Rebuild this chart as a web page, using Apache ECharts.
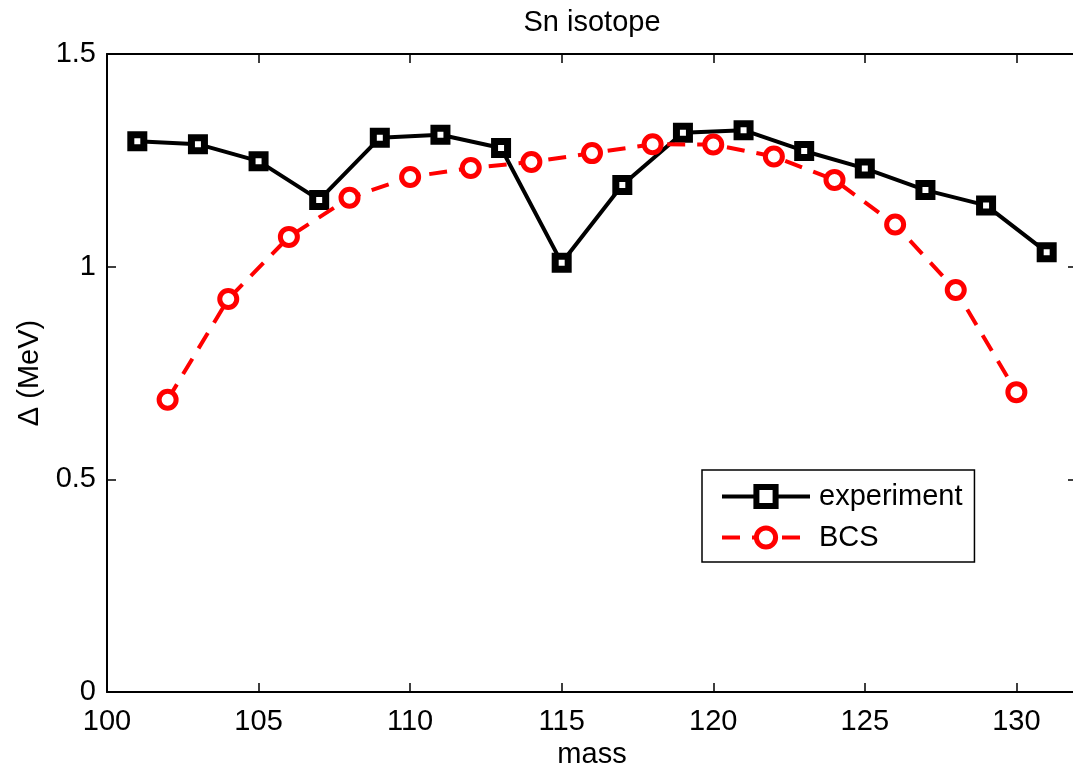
<!DOCTYPE html>
<html>
<head>
<meta charset="utf-8">
<script src="https://cdn.jsdelivr.net/npm/echarts@6/dist/echarts.min.js"></script>
<style>
  html, body { margin: 0; padding: 0; background: #fff; overflow: hidden; }
  #chart { width: 1080px; height: 772px; }
</style>
</head>
<body>
<div id="chart"></div>
<script>
// Pairing gap of Sn isotopes: measured odd-mass values vs BCS calculation
const expMass = [101, 103, 105, 107, 109, 111, 113, 115, 117, 119, 121, 123, 125, 127, 129, 131];
const expGap  = [1.295, 1.288, 1.248, 1.157, 1.303, 1.310, 1.279, 1.009, 1.192, 1.315, 1.321, 1.272, 1.231, 1.180, 1.144, 1.034];
const bcsMass = [102, 104, 106, 108, 110, 112, 114, 116, 118, 120, 122, 124, 126, 128, 130];
const bcsGap  = [0.687, 0.924, 1.070, 1.162, 1.211, 1.232, 1.246, 1.267, 1.288, 1.287, 1.259, 1.204, 1.099, 0.945, 0.705];
const xTicks = [100, 105, 110, 115, 120, 125, 130];
const yTicks = [0, 0.5, 1, 1.5];

const font = 'Liberation Sans, Arial, Helvetica, sans-serif';
const fs = 29;
const chart = echarts.init(document.getElementById('chart'));

const fmtY = v => (yTicks.includes(+v.toFixed(3)) ? String(+v.toFixed(3)) : '');
const tick = () => ({ show: true, inside: true, length: 9, lineStyle: { color: '#000', width: 1.5 } });
const line = () => ({ show: true, onZero: false, lineStyle: { color: '#000', width: 2 } });

chart.setOption({
  backgroundColor: '#fff',
  animation: false,
  title: {
    text: 'Sn isotope',
    left: 587, top: 3, textAlign: 'center',
    textStyle: { fontFamily: font, fontSize: fs, fontWeight: 'normal', color: '#000' }
  },
  grid: { left: 107, right: 3, top: 54, bottom: 80, containLabel: false, outerBoundsMode: 'none' },
  legend: {
    orient: 'vertical',
    left: 702, top: 470,
    padding: [12, 12, 10, 18],
    itemGap: 12,
    itemWidth: 88, itemHeight: 24,
    borderColor: '#000', borderWidth: 1.5,
    backgroundColor: '#fff',
    textStyle: { fontFamily: font, fontSize: fs, color: '#000', padding: [0, 0, 0, 4] },
    data: [
      { name: 'experiment', lineStyle: { width: 4 }, itemStyle: { borderWidth: 6 } },
      { name: 'BCS', lineStyle: { width: 4 }, itemStyle: { borderWidth: 5 } }
    ]
  },
  xAxis: [{
    type: 'value', min: 100, max: 132, interval: 5,
    name: 'mass', nameLocation: 'middle', nameGap: 46,
    nameTextStyle: { fontFamily: font, fontSize: fs, color: '#000' },
    axisLine: line(),
    axisTick: tick(),
    axisLabel: { fontFamily: font, fontSize: fs, color: '#000', margin: 15,
      formatter: v => (xTicks.includes(v) ? String(v) : '') },
    splitLine: { show: false }
  }, {
    type: 'value', min: 100, max: 132, interval: 5, position: 'top',
    axisLine: line(),
    axisTick: tick(),
    axisLabel: { show: false },
    splitLine: { show: false }
  }],
  yAxis: [{
    type: 'value', min: 0, max: 1.5, interval: 0.5,
    name: 'Δ (MeV)', nameLocation: 'middle', nameGap: 51, nameRotate: 90,
    nameTextStyle: { fontFamily: font, fontSize: fs, color: '#000' },
    axisLine: line(),
    axisTick: tick(),
    axisLabel: { fontFamily: font, fontSize: fs, color: '#000', margin: 11, formatter: fmtY },
    splitLine: { show: false }
  }, {
    type: 'value', min: 0, max: 1.5, interval: 0.5, position: 'right',
    axisLine: line(),
    axisTick: tick(),
    axisLabel: { show: false },
    splitLine: { show: false }
  }],
  series: [{
    name: 'experiment',
    type: 'line',
    data: expMass.map((m, i) => [m, expGap[i]]),
    symbol: 'rect', symbolSize: 13,
    lineStyle: { color: '#000', width: 4 },
    itemStyle: { color: '#fff', borderColor: '#000', borderWidth: 7 },
    z: 2
  }, {
    name: 'BCS',
    type: 'line',
    data: bcsMass.map((m, i) => [m, bcsGap[i]]),
    symbol: 'circle', symbolSize: 17,
    lineStyle: { color: '#ff0000', width: 4, type: [18, 12] },
    itemStyle: { color: '#fff', borderColor: '#ff0000', borderWidth: 5 },
    z: 3
  }]
});
</script>
</body>
</html>
